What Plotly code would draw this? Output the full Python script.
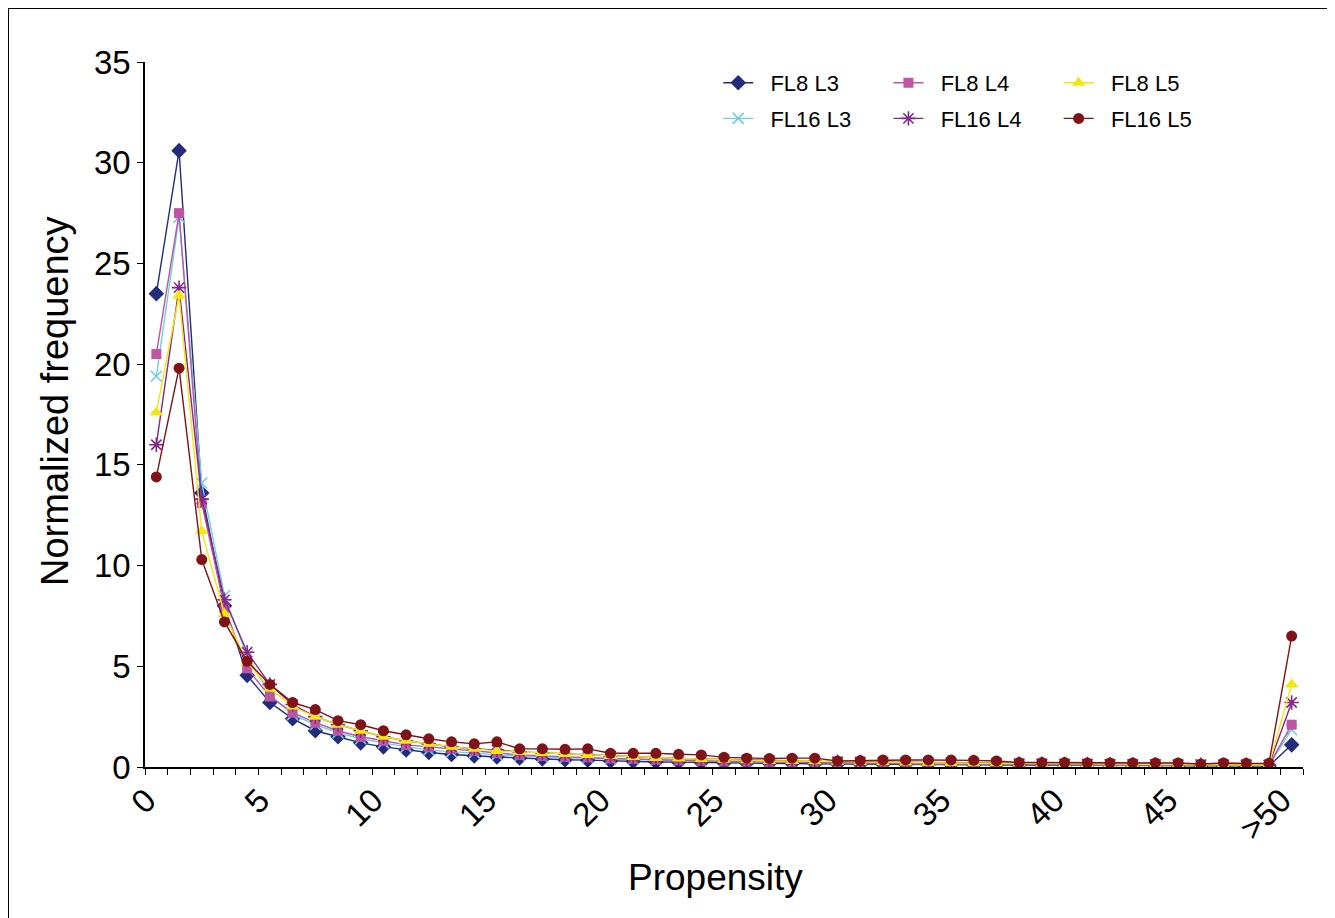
import plotly.graph_objects as go

categories = list(range(51))
tick_positions = [0, 5, 10, 15, 20, 25, 30, 35, 40, 45, 50]
tick_labels = ["0", "5", "10", "15", "20", "25", "30", "35", "40", "45", ">50"]

fl8_l3 = [23.5, 30.6, 13.6, 8.0, 4.55, 3.2, 2.4, 1.8, 1.5, 1.2,
          1.0, 0.85, 0.72, 0.62, 0.55, 0.5, 0.45, 0.4, 0.36, 0.34,
          0.3, 0.28, 0.25, 0.24, 0.22, 0.2, 0.19, 0.18, 0.17, 0.16,
          0.15, 0.14, 0.13, 0.12, 0.12, 0.11, 0.1, 0.1, 0.09, 0.09,
          0.08, 0.08, 0.07, 0.07, 0.07, 0.06, 0.06, 0.06, 0.05, 0.05,
          1.1]
fl8_l4 = [20.5, 27.5, 13.1, 7.9, 4.9, 3.5, 2.7, 2.2, 1.8, 1.5,
          1.3, 1.1, 1.0, 0.9, 0.8, 0.7, 0.6, 0.55, 0.5, 0.48,
          0.42, 0.4, 0.36, 0.33, 0.3, 0.28, 0.26, 0.25, 0.23, 0.22,
          0.2, 0.19, 0.18, 0.17, 0.16, 0.15, 0.14, 0.14, 0.13, 0.12,
          0.12, 0.11, 0.11, 0.1, 0.1, 0.1, 0.09, 0.09, 0.08, 0.08,
          2.1]
fl8_l5 = [17.6, 23.4, 11.7, 7.6, 5.2, 3.9, 3.0, 2.5, 2.1, 1.8,
          1.5, 1.3, 1.15, 1.0, 0.9, 0.8, 0.75, 0.7, 0.65, 0.6,
          0.55, 0.5, 0.45, 0.42, 0.4, 0.36, 0.33, 0.3, 0.3, 0.28,
          0.26, 0.25, 0.24, 0.22, 0.21, 0.2, 0.19, 0.18, 0.17, 0.16,
          0.15, 0.14, 0.14, 0.13, 0.12, 0.12, 0.11, 0.11, 0.1, 0.1,
          4.1]
fl16_l3 = [19.4, 27.3, 14.1, 8.5, 5.5, 3.6, 2.6, 2.1, 1.7, 1.4,
           1.2, 1.0, 0.85, 0.75, 0.7, 0.6, 0.55, 0.5, 0.45, 0.45,
           0.4, 0.38, 0.35, 0.32, 0.3, 0.28, 0.26, 0.25, 0.23, 0.22,
           0.2, 0.19, 0.18, 0.17, 0.16, 0.15, 0.14, 0.14, 0.13, 0.12,
           0.12, 0.11, 0.1, 0.1, 0.1, 0.09, 0.09, 0.08, 0.08, 0.08,
           1.85]
fl16_l4 = [16.0, 23.8, 13.3, 8.3, 5.7, 4.1, 3.1, 2.5, 2.1, 1.8,
           1.5, 1.3, 1.15, 1.0, 0.9, 0.85, 0.75, 0.7, 0.65, 0.6,
           0.55, 0.5, 0.46, 0.42, 0.4, 0.37, 0.34, 0.32, 0.3, 0.28,
           0.26, 0.25, 0.24, 0.22, 0.21, 0.2, 0.19, 0.18, 0.17, 0.16,
           0.15, 0.15, 0.14, 0.13, 0.13, 0.12, 0.12, 0.11, 0.11, 0.1,
           3.2]
fl16_l5 = [14.4, 19.8, 10.3, 7.2, 5.25, 4.1, 3.2, 2.85, 2.3, 2.1,
           1.8, 1.6, 1.4, 1.25, 1.15, 1.25, 0.9, 0.9, 0.88, 0.9,
           0.68, 0.68, 0.68, 0.63, 0.6, 0.48, 0.44, 0.42, 0.44, 0.44,
           0.3, 0.32, 0.35, 0.35, 0.35, 0.35, 0.33, 0.3, 0.22, 0.22,
           0.22, 0.2, 0.2, 0.2, 0.2, 0.2, 0.15, 0.2, 0.18, 0.18,
           6.5]

series = [
    ("FL8 L3", fl8_l3, "#232C7B", "diamond", 12, "legend"),
    ("FL16 L3", fl16_l3, "#6DCFE0", "x-thin-open", 11, "legend"),
    ("FL8 L4", fl8_l4, "#BD55A5", "square", 10, "legend2"),
    ("FL16 L4", fl16_l4, "#83288A", "asterisk-open", 12, "legend2"),
    ("FL8 L5", fl8_l5, "#F2E70F", "triangle-up", 12, "legend3"),
    ("FL16 L5", fl16_l5, "#801318", "circle", 11, "legend3"),
]

fig = go.Figure()
for name, vals, color, sym, size, leg in series:
    marker = dict(symbol=sym, size=size, color=color)
    if sym.endswith("open"):
        marker["line"] = dict(color=color, width=1.6)
    fig.add_trace(go.Scatter(
        x=categories, y=vals, name="\u00a0\u00a0" + name, mode="lines+markers",
        line=dict(color=color, width=1.4), marker=marker,
        legend=leg, legendgroup=name,
    ))

FONT = "Liberation Sans, Arial, sans-serif"
L, R, T, B = 137, 40, 54, 159
W, H = 1335, 918
PW, PH = W - L - R, H - T - B
leg_common = dict(font=dict(size=22, family=FONT, color="#000"), bgcolor="rgba(0,0,0,0)",
                  xanchor="left", yanchor="top", tracegroupgap=4, y=1.0)
fig.update_layout(
    width=W, height=H,
    margin=dict(l=L, r=R, t=T, b=B),
    paper_bgcolor="white", plot_bgcolor="white",
    font=dict(family=FONT, color="#000"),
    legend=dict(x=0.495, **leg_common),
    legend2=dict(x=0.642, **leg_common),
    legend3=dict(x=0.789, **leg_common),
    xaxis=dict(
        range=[-0.5, 50.5], tickmode="array", tickvals=tick_positions, ticktext=tick_labels,
        ticks="", tickangle=-45, tickfont=dict(size=33, family=FONT),
        ticklabelstandoff=-1, ticklabelshift=-10,
        showline=True, linecolor="#000", linewidth=1.5, showgrid=False, zeroline=False,
        minor=dict(tickmode="array", tickvals=[i - 0.5 for i in range(52)], ticks="outside",
                   ticklen=6, tickcolor="#000", tickwidth=1.2, showgrid=False),
    ),
    yaxis=dict(
        range=[0, 35], tickvals=[0, 5, 10, 15, 20, 25, 30, 35], ticks="outside", ticklen=6,
        tickcolor="#000", tickwidth=1.2, tickfont=dict(size=33, family=FONT),
        showline=True, linecolor="#000", linewidth=1.5, showgrid=False, zeroline=False,
    ),
    annotations=[
        dict(text="Propensity", xref="paper", yref="paper", x=(707 - L) / PW,
             y=(H - B - 869) / PH, xanchor="center", yanchor="middle", showarrow=False,
             font=dict(size=37, family=FONT, color="#000")),
        dict(text="Normalized frequency", xref="paper", yref="paper", x=(47 - L) / PW,
             y=(H - B - 393) / PH, xanchor="center", yanchor="middle", showarrow=False,
             textangle=-90, font=dict(size=38, family=FONT, color="#000")),
    ],
    shapes=[dict(type="rect", xref="paper", yref="paper",
                 x0=-L / PW, x1=1 + (R + 60) / PW,
                 y0=-(B + 60) / PH, y1=1 + T / PH,
                 line=dict(color="#000", width=2), fillcolor="rgba(0,0,0,0)", layer="above")],
)

fig.write_html("out.html", config={"displayModeBar": False})
